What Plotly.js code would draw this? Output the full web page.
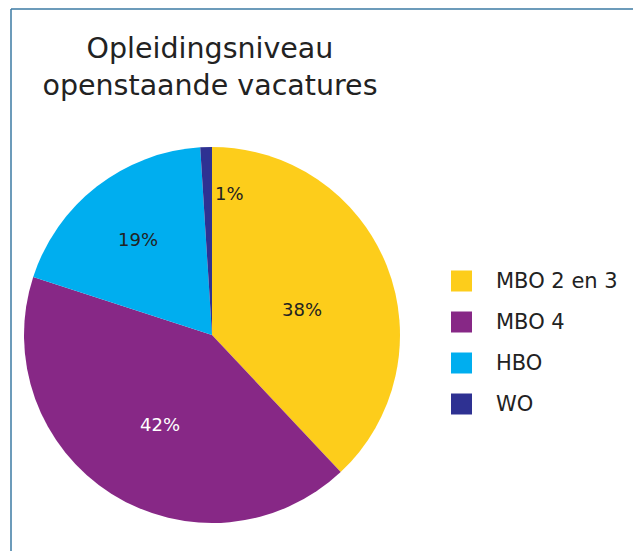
<!DOCTYPE html>
<html>
<head>
<meta charset="utf-8">
<script src="https://cdn.plot.ly/plotly-3.0.1.min.js"></script>
<style>html,body{margin:0;padding:0;background:#fff;}#chart{width:633px;height:551px;}</style>
</head>
<body>
<div id="chart"></div>
<script>
// ---- data ----
const categories = ['MBO 2 en 3', 'MBO 4', 'HBO', 'WO'];
const values = [38, 42, 19, 1];
const colors = ['#FDCD1B', '#872886', '#00AEEF', '#2E3192'];
const labelColors = ['#222222', '#ffffff', '#222222', '#222222'];

// ---- layout constants (pixels) ----
const W = 633, H = 551;
const cx = 212, cy = 335, R = 188;
const labelRadius = [0.50, 0.55, 0.64, 0.76];
const labelAngleOverride = [74, 210, null, 7];

const px = x => x / W;
const py = y => 1 - y / H;

const total = values.reduce((a, b) => a + b, 0);
const annotations = [];
let cum = 0;
values.forEach((v, i) => {
  const mid = (cum + v / 2) / total * 360;
  cum += v;
  const ang = (labelAngleOverride[i] !== null ? labelAngleOverride[i] : mid) * Math.PI / 180;
  const d = labelRadius[i] * R;
  annotations.push({
    xref: 'paper', yref: 'paper',
    x: px(cx + d * Math.sin(ang)), y: py(cy - d * Math.cos(ang)),
    xanchor: 'center', yanchor: 'middle', showarrow: false,
    text: Math.round(v / total * 100) + '%',
    font: {family: 'DejaVu Sans', size: 18, color: labelColors[i]}
  });
});

// custom legend
const shapes = [];
const legX = 451, legSq = 21, legTextX = 494, legTop = 281, legStep = 41;
categories.forEach((c, i) => {
  const yc = legTop + i * legStep;
  shapes.push({type: 'rect', xref: 'paper', yref: 'paper',
    x0: px(legX), x1: px(legX + legSq), y0: py(yc + legSq / 2), y1: py(yc - legSq / 2),
    fillcolor: colors[i], line: {width: 0}});
  annotations.push({xref: 'paper', yref: 'paper', x: px(legTextX), y: py(yc),
    xanchor: 'left', yanchor: 'middle', showarrow: false, text: c,
    font: {family: 'DejaVu Sans', size: 21, color: '#222222'}});
});

// frame lines (top and left)
shapes.push({type: 'line', xref: 'paper', yref: 'paper', x0: px(11), x1: 1, y0: py(9), y1: py(9), line: {color: '#3B7AA3', width: 1.5}});
shapes.push({type: 'line', xref: 'paper', yref: 'paper', x0: px(11), x1: px(11), y0: py(9), y1: 0, line: {color: '#3B7AA3', width: 1.5}});

const data = [{
  type: 'pie',
  labels: categories,
  values: values,
  marker: {colors: colors, line: {width: 0}},
  sort: false,
  direction: 'clockwise',
  rotation: 0,
  textinfo: 'none',
  hoverinfo: 'label+percent',
  showlegend: false,
  domain: {x: [px(cx - R), px(cx + R)], y: [py(cy + R), py(cy - R)]}
}];

const layout = {
  width: W, height: H,
  margin: {l: 0, r: 0, t: 0, b: 0},
  paper_bgcolor: '#ffffff',
  title: {
    text: 'Opleidingsniveau<br>openstaande vacatures',
    x: px(210), xanchor: 'center',
    y: 1 - 58 / H, yanchor: 'middle',
    font: {family: 'DejaVu Sans', size: 28.5, color: '#222222'}
  },
  showlegend: false,
  annotations: annotations,
  shapes: shapes
};

Plotly.newPlot('chart', data, layout, {displayModeBar: false, staticPlot: true});
</script>
</body>
</html>
